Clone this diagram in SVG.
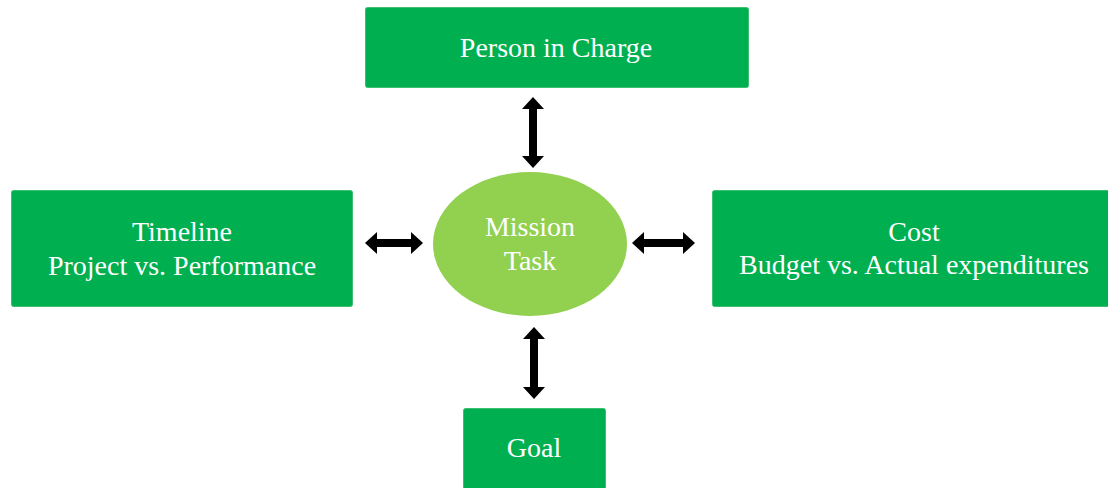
<svg xmlns="http://www.w3.org/2000/svg" width="1108" height="488" viewBox="0 0 1108 488">
<style>
.box{fill:#00B050;stroke:#3cc070;stroke-width:1}
.ell{fill:#92D050}
.t{font-family:"Liberation Serif","Times New Roman",serif;font-size:28px;fill:#ffffff;text-anchor:middle}
.c{stroke:#000;stroke-width:8;fill:none;marker-start:url(#ah);marker-end:url(#ah)}
</style>
<defs>
<marker id="ah" markerUnits="userSpaceOnUse" viewBox="0 0 12 22" markerWidth="12" markerHeight="22" refX="1" refY="11" orient="auto-start-reverse">
<path d="M0,0 L12,11 L0,22 z" fill="#000"/>
</marker>
</defs>
<rect width="1108" height="488" fill="#fff"/>
<g id="connectors">
<line class="c" x1="533" y1="108" x2="533" y2="157"/>
<line class="c" x1="534" y1="338" x2="534" y2="388"/>
<line class="c" x1="376" y1="243" x2="412" y2="243"/>
<line class="c" x1="643" y1="243" x2="684" y2="243"/>
</g>
<g id="person">
<rect class="box" x="365.5" y="7.5" width="383" height="80" rx="2"/>
<text class="t" x="556" y="57">Person in Charge</text>
</g>
<g id="timeline">
<rect class="box" x="11.5" y="190.5" width="341" height="116" rx="2"/>
<text class="t" x="182" y="241">Timeline</text>
<text class="t" x="182" y="275">Project vs. Performance</text>
</g>
<g id="mission">
<ellipse class="ell" cx="530" cy="244" rx="97" ry="72"/>
<text class="t" x="530" y="236">Mission</text>
<text class="t" x="530" y="270">Task</text>
</g>
<g id="cost">
<rect class="box" x="712.5" y="190.5" width="397" height="116" rx="2"/>
<text class="t" x="914" y="241">Cost</text>
<text class="t" x="914" y="274">Budget vs. Actual expenditures</text>
</g>
<g id="goal">
<rect class="box" x="463.5" y="408.5" width="142" height="84" rx="2"/>
<text class="t" x="534" y="457">Goal</text>
</g>
</svg>
